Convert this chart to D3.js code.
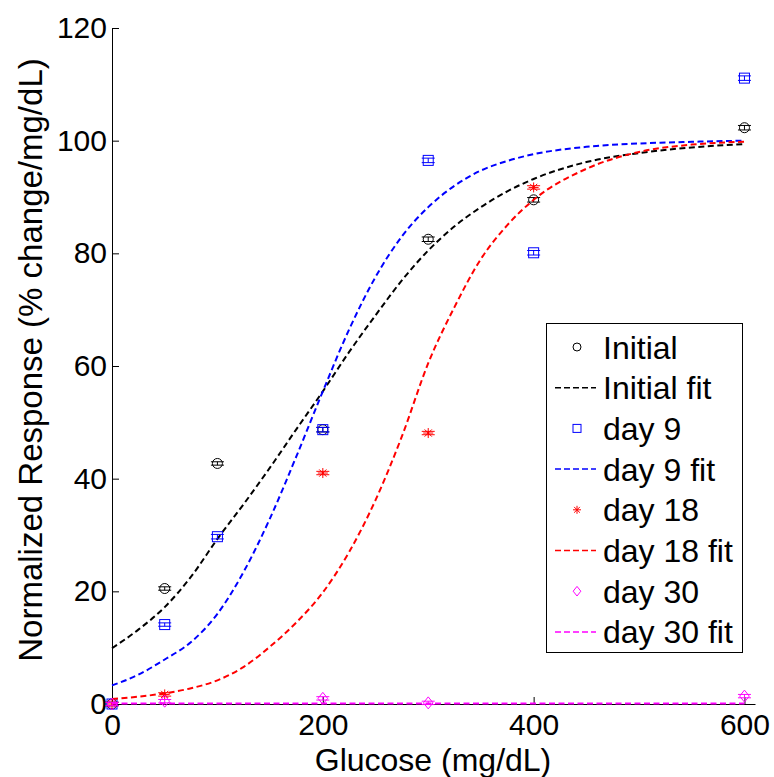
<!DOCTYPE html>
<html>
<head>
<meta charset="utf-8">
<script src="https://cdn.jsdelivr.net/npm/d3@7"></script>
<style>
  html, body { margin: 0; padding: 0; background: #fff; }
  svg { display: block; font-family: "Liberation Sans", Arial, Helvetica, sans-serif; }
</style>
</head>
<body>
<svg id="chart" width="774" height="777"></svg>
<script>
// Measured glucose concentrations (mg/dL) and normalized responses
const glucose = [0, 50, 100, 200, 300, 400, 600];
const initialVals = [0, 20.5, 42.7, 48.7, 82.5, 89.5, 102.3];
const initialErr = [0.3, 0.3, 0.3, 0.4, 0.4, 0.4, 0.4];
const day9Vals = [0, 14.1, 29.7, 48.7, 96.5, 80.1, 111.1];
const day9Err = [0.3, 0.3, 0.4, 0.4, 0.4, 0.4, 0.4];
const day18Glucose = [0, 50, 200, 300, 400];
const day18Vals = [0, 1.7, 41.0, 48.1, 91.7];
const day18Err = [0.3, 0.3, 0.3, 0.3, 0.3];
const day30Glucose = [0, 50, 200, 300, 600];
const day30Vals = [0, 0.5, 1.0, 0.2, 1.4];
const day30Err = [0.3, 0.3, 0.3, 0.3, 0.3];

// Fitted dose-response curves
const fitGlucose = [0, 25, 50, 75, 100, 125, 150, 175, 200, 225, 250, 275, 300, 325, 350, 375, 400, 450, 500, 550, 600];
const initialFit = [9.9, 13.2, 17.2, 22.6, 29.3, 35.5, 42.0, 48.8, 55.5, 62.5, 69.0, 75.2, 80.5, 84.8, 88.2, 91.0, 93.2, 96.2, 97.8, 98.8, 99.4];
const day9Fit = [3.3, 5.2, 7.9, 11.0, 16.0, 23.5, 33.0, 44.0, 55.5, 66.5, 75.8, 83.0, 88.2, 92.0, 94.7, 96.4, 97.6, 98.9, 99.5, 99.8, 100.0];
const day18Fit = [0.9, 1.3, 1.9, 2.8, 4.2, 6.6, 10.2, 14.5, 19.8, 27.0, 36.2, 47.5, 60.5, 70.5, 79.0, 85.0, 89.5, 95.0, 98.0, 99.3, 99.8];
const day30Fit = [0.1, 0.1, 0.1, 0.1, 0.1, 0.1, 0.1, 0.1, 0.1, 0.1, 0.1, 0.1, 0.1, 0.1, 0.1, 0.1, 0.1, 0.1, 0.1, 0.1, 0.1];

const xTicks = [0, 200, 400, 600];
const yTicks = [0, 20, 40, 60, 80, 100, 120];

const seriesNames = ["Initial", "day 9", "day 18", "day 30"];
const seriesColors = ["#000000", "#0000ff", "#ff0000", "#ff00ff"];
const seriesMarkers = ["circle", "square", "star", "diamond"];

const svg = d3.select("#chart");
const x = d3.scaleLinear().domain([0, 610]).range([112, 755]);
const y = d3.scaleLinear().domain([0, 120]).range([704, 28]);

// Axes (ticks point into the plot)
const xAxis = d3.axisBottom(x).tickValues(xTicks).tickSizeInner(-7).tickSizeOuter(0).tickPadding(10);
const yAxis = d3.axisLeft(y).tickValues(yTicks).tickSizeInner(-7).tickSizeOuter(0).tickPadding(5);

const gx = svg.append("g").attr("transform", `translate(0,${y(0)})`).call(xAxis);
const gy = svg.append("g").attr("transform", `translate(${x(0)},0)`).call(yAxis);
[gx, gy].forEach(g => {
  g.select(".domain").attr("stroke", "#000").attr("stroke-width", 1);
  g.selectAll(".tick line").attr("stroke", "#000").attr("stroke-width", 1);
  g.selectAll(".tick text").attr("fill", "#000").style("font-size", "30px")
   .style("font-family", "'Liberation Sans', Arial, Helvetica, sans-serif");
});

// Axis titles
svg.append("text")
  .attr("x", 433).attr("y", 771)
  .attr("text-anchor", "middle")
  .style("font-size", "32px")
  .text("Glucose (mg/dL)");
svg.append("text")
  .attr("transform", "translate(42,360) rotate(-90)")
  .attr("text-anchor", "middle")
  .style("font-size", "33px")
  .text("Normalized Response (% change/mg/dL)");

// Marker drawing
function drawMarker(g, type, color, cx, cy, s) {
  if (type === "circle") {
    g.append("circle").attr("cx", cx).attr("cy", cy).attr("r", s * 0.5)
      .attr("fill", "none").attr("stroke", color).attr("stroke-width", 1);
  } else if (type === "square") {
    g.append("rect").attr("x", cx - s * 0.5).attr("y", cy - s * 0.5)
      .attr("width", s).attr("height", s)
      .attr("fill", "none").attr("stroke", color).attr("stroke-width", 1);
  } else if (type === "diamond") {
    const h = s * 0.6;
    g.append("path")
      .attr("d", `M${cx},${cy - h}L${cx + h * 0.8},${cy}L${cx},${cy + h}L${cx - h * 0.8},${cy}Z`)
      .attr("fill", "none").attr("stroke", color).attr("stroke-width", 1);
  } else if (type === "star") {
    const h = s * 0.5, d = h * 0.72;
    g.append("path")
      .attr("d", `M${cx - h},${cy}H${cx + h}M${cx},${cy - h}V${cy + h}` +
                 `M${cx - d},${cy - d}L${cx + d},${cy + d}M${cx - d},${cy + d}L${cx + d},${cy - d}`)
      .attr("fill", "none").attr("stroke", color).attr("stroke-width", 1);
  }
}

function drawErrorbars(g, xs, vs, es, color, marker) {
  xs.forEach((xv, i) => {
    const cx = x(xv), top = y(vs[i] + es[i]), bot = y(vs[i] - es[i]);
    const cap = 6.5;
    g.append("path")
      .attr("d", `M${cx},${top}V${bot}M${cx - cap},${top}H${cx + cap}M${cx - cap},${bot}H${cx + cap}`)
      .attr("fill", "none").attr("stroke", color).attr("stroke-width", 1);
    drawMarker(g, marker, color, cx, y(vs[i]), 10);
  });
}

const line = d3.line()
  .x((d, i) => x(fitGlucose[i]))
  .y(d => y(d))
  .curve(d3.curveMonotoneX);

function drawFit(vals, color) {
  svg.append("path")
    .attr("d", line(vals))
    .attr("fill", "none")
    .attr("stroke", color)
    .attr("stroke-width", 2)
    .attr("stroke-dasharray", "6,3.5");
}

const dataSets = [
  { xs: glucose, vs: initialVals, es: initialErr, fit: initialFit },
  { xs: glucose, vs: day9Vals, es: day9Err, fit: day9Fit },
  { xs: day18Glucose, vs: day18Vals, es: day18Err, fit: day18Fit },
  { xs: day30Glucose, vs: day30Vals, es: day30Err, fit: day30Fit }
];
dataSets.forEach((ds, k) => {
  drawErrorbars(svg.append("g"), ds.xs, ds.vs, ds.es, seriesColors[k], seriesMarkers[k]);
  drawFit(ds.fit, seriesColors[k]);
});

// Legend
const legend = svg.append("g");
legend.append("rect")
  .attr("x", 546.5).attr("y", 323.5).attr("width", 196).attr("height", 329)
  .attr("fill", "#fff").attr("stroke", "#000").attr("stroke-width", 1);
const rowH = 40.7, row0 = 347;
seriesNames.forEach((name, k) => {
  const yMark = row0 + rowH * (2 * k);
  const yFit = row0 + rowH * (2 * k + 1);
  drawMarker(legend, seriesMarkers[k], seriesColors[k], 577, yMark, 8);
  legend.append("text").attr("x", 603).attr("y", yMark + 11.5)
    .style("font-size", "32px").text(name);
  legend.append("line")
    .attr("x1", 555).attr("x2", 596).attr("y1", yFit).attr("y2", yFit)
    .attr("stroke", seriesColors[k]).attr("stroke-width", 1.5)
    .attr("stroke-dasharray", "6,3");
  legend.append("text").attr("x", 603).attr("y", yFit + 11.5)
    .style("font-size", "32px").text(name + " fit");
});
</script>
</body>
</html>
